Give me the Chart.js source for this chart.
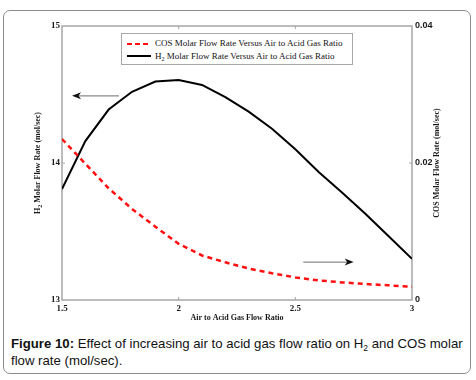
<!DOCTYPE html>
<html>
<head>
<meta charset="utf-8">
<script src="https://cdn.jsdelivr.net/npm/chart.js@4"></script>
<style>
  html, body { margin: 0; padding: 0; background: #fff; }
  #wrap { position: relative; width: 476px; height: 380px; overflow: hidden; }
  #frame {
    position: absolute; left: 3px; top: 10px; width: 468px; height: 364px;
    box-sizing: border-box; border: 1.5px solid #8c8c8c; border-radius: 7px;
  }
  #chart { position: absolute; left: 0; top: 0; }
  #legend {
    position: absolute; left: 121px; top: 33px; width: 232px; height: 32px;
    box-sizing: border-box; border: 1px solid #a8a8a8; background: #fff;
    font: 9px "Liberation Serif", serif; color: #111; padding-top: 3px;
  }
  #legend .row { height: 12.5px; line-height: 12.5px; white-space: nowrap; }
  #legend .sample { display: inline-block; width: 24px; height: 2px; margin: 0 4px 0 5px; vertical-align: middle; }
  #legend sub { font-size: 6px; vertical-align: -2px; line-height: 0; }
  #caption {
    position: absolute; left: 11px; top: 335px; width: 460px;
    font: 13.2px "Liberation Sans", Arial, sans-serif; line-height: 17px; color: #111;
    white-space: nowrap;
  }
  #caption sub { font-size: 8.5px; vertical-align: -3px; line-height: 0; }
</style>
</head>
<body>
<div id="wrap">
  <div id="frame"></div>
  <canvas id="chart" width="476" height="330"></canvas>
  <div id="legend"></div>
  <div id="caption"><b>Figure 10:</b> Effect of increasing air to acid gas flow ratio on H<sub>2</sub> and COS molar<br>flow rate (mol/sec).</div>
</div>
<script>
// air to acid gas ratio
const ratios = [1.5, 1.6, 1.7, 1.8, 1.9, 2.0, 2.1, 2.2, 2.3, 2.4, 2.5, 2.6, 2.7, 2.8, 2.9, 3.0];
// H2 molar flow rate (mol/sec), left axis
const h2Flow = [13.81, 14.16, 14.39, 14.52, 14.595, 14.605, 14.57, 14.48, 14.375, 14.25, 14.1, 13.935, 13.785, 13.63, 13.465, 13.3];
// COS molar flow rate (mol/sec), right axis
const cosFlow = [0.0235, 0.0199, 0.0163, 0.0133, 0.0107, 0.0082, 0.0065, 0.0055, 0.0046, 0.0039, 0.0033, 0.00286, 0.00257, 0.00233, 0.00214, 0.00194];

const xTicks = [1.5, 2, 2.5, 3];
const h2Ticks = [13, 14, 15];
const cosTicks = [0, 0.02, 0.04];

// arrows [xFrom, xTo, y] in data units
const arrowH2 = [1.744, 1.543, 14.49];
const arrowCos = [2.534, 2.75, 0.00553];

const legendLabels = ["COS Molar Flow Rate Versus Air to Acid Gas Ratio", "H<sub>2</sub> Molar Flow Rate Versus Air to Acid Gas Ratio"];

const serifBold = "bold 8px 'Liberation Serif', serif";

function drawRotated(ctx, parts, x, y, rot) {
  // parts: [text, isSub]
  ctx.save();
  ctx.translate(x, y);
  ctx.rotate(rot);
  ctx.textBaseline = "middle";
  ctx.textAlign = "left";
  let total = 0;
  const widths = parts.map(p => {
    ctx.font = p[1] ? "bold 6px 'Liberation Serif', serif" : serifBold;
    const w = ctx.measureText(p[0]).width;
    total += w;
    return w;
  });
  let cx = -total / 2;
  parts.forEach((p, i) => {
    ctx.font = p[1] ? "bold 6px 'Liberation Serif', serif" : serifBold;
    ctx.fillText(p[0], cx, p[1] ? 2.5 : 0);
    cx += widths[i];
  });
  ctx.restore();
}

function drawArrow(ctx, x0, x1, y) {
  const dir = Math.sign(x1 - x0);
  ctx.save();
  ctx.strokeStyle = "#8a8a8a";
  ctx.lineWidth = 1.2;
  ctx.beginPath();
  ctx.moveTo(x0, y);
  ctx.lineTo(x1 - dir * 6, y);
  ctx.stroke();
  ctx.fillStyle = "#111";
  ctx.beginPath();
  ctx.moveTo(x1, y);
  ctx.lineTo(x1 - dir * 9, y - 3.5);
  ctx.lineTo(x1 - dir * 6.5, y);
  ctx.lineTo(x1 - dir * 9, y + 3.5);
  ctx.closePath();
  ctx.fill();
  ctx.restore();
}

const framePlugin = {
  id: "frame",
  beforeDatasetsDraw(chart) {
    const { ctx, chartArea: a, scales } = chart;
    ctx.save();
    ctx.strokeStyle = "#a6a6a6";
    ctx.lineWidth = 1.5;
    ctx.strokeRect(a.left, a.top, a.right - a.left, a.bottom - a.top);
    ctx.lineWidth = 1;
    ctx.beginPath();
    xTicks.slice(1, -1).forEach(v => {
      const px = scales.x.getPixelForValue(v);
      ctx.moveTo(px, a.bottom); ctx.lineTo(px, a.bottom - 3);
      ctx.moveTo(px, a.top); ctx.lineTo(px, a.top + 3);
    });
    h2Ticks.slice(1, -1).forEach(v => {
      const py = scales.y.getPixelForValue(v);
      ctx.moveTo(a.left, py); ctx.lineTo(a.left + 3, py);
    });
    cosTicks.slice(1, -1).forEach(v => {
      const py = scales.y2.getPixelForValue(v);
      ctx.moveTo(a.right, py); ctx.lineTo(a.right - 3, py);
    });
    ctx.stroke();
    ctx.restore();
  },
  afterDraw(chart) {
    const { ctx, chartArea: a, scales } = chart;
    ctx.fillStyle = "#1a1a1a";
    const midY = (a.top + a.bottom) / 2;
    drawRotated(ctx, [["H", false], ["2", true], [" Molar Flow Rate (mol/sec)", false]], a.left - 24, midY, -Math.PI / 2);
    drawRotated(ctx, [["COS Molar Flow Rate (mol/sec)", false]], a.right + 25, midY, -Math.PI / 2);
    drawRotated(ctx, [["Air to Acid Gas Flow Ratio", false]], (a.left + a.right) / 2, a.bottom + 18, 0);

    drawArrow(ctx, scales.x.getPixelForValue(arrowH2[0]), scales.x.getPixelForValue(arrowH2[1]), scales.y.getPixelForValue(arrowH2[2]));
    drawArrow(ctx, scales.x.getPixelForValue(arrowCos[0]), scales.x.getPixelForValue(arrowCos[1]), scales.y2.getPixelForValue(arrowCos[2]));
  }
};

const ctx = document.getElementById("chart").getContext("2d");
const chart = new Chart(ctx, {
  type: "line",
  data: {
    datasets: [{
      label: "COS",
      data: ratios.map((r, i) => ({ x: r, y: cosFlow[i] })),
      yAxisID: "y2",
      borderColor: "#ff1010",
      borderWidth: 2.5,
      borderDash: [5, 4],
      pointRadius: 0,
      tension: 0,
      fill: false
    }, {
      label: "H2",
      data: ratios.map((r, i) => ({ x: r, y: h2Flow[i] })),
      yAxisID: "y",
      borderColor: "#000",
      borderWidth: 2,
      pointRadius: 0,
      tension: 0,
      fill: false
    }]
  },
  options: {
    responsive: false,
    animation: false,
    layout: { padding: { top: 26, left: 0, right: 0, bottom: 0 } },
    plugins: { legend: { display: false }, tooltip: { enabled: false } },
    scales: {
      x: {
        type: "linear",
        min: 1.5, max: 3,
        afterBuildTicks: s => { s.ticks = xTicks.map(v => ({ value: v })); },
        afterFit: s => { s.height = 30; },
        grid: { display: false, drawTicks: false, tickLength: 0 },
        border: { display: false },
        ticks: {
          padding: 3,
          maxRotation: 0,
          color: "#1a1a1a",
          font: { family: "'Liberation Serif', serif", size: 9, weight: "bold" },
          callback: v => String(v)
        }
      },
      y: {
        position: "left",
        min: 13, max: 15,
        afterBuildTicks: s => { s.ticks = h2Ticks.map(v => ({ value: v })); },
        afterFit: s => { s.width = 62; },
        grid: { display: false, drawTicks: false, tickLength: 0 },
        border: { display: false },
        ticks: {
          padding: 2,
          color: "#1a1a1a",
          font: { family: "'Liberation Serif', serif", size: 9, weight: "bold" },
          callback: v => String(v)
        }
      },
      y2: {
        position: "right",
        min: 0, max: 0.04,
        afterBuildTicks: s => { s.ticks = cosTicks.map(v => ({ value: v })); },
        afterFit: s => { s.width = 64; },
        grid: { display: false, drawTicks: false, tickLength: 0 },
        border: { display: false },
        ticks: {
          padding: 3,
          color: "#1a1a1a",
          font: { family: "'Liberation Sans', sans-serif", size: 9, weight: "bold" },
          callback: v => v === 0 ? "0" : v.toFixed(2)
        }
      }
    }
  },
  plugins: [framePlugin]
});

// legend built from the datasets
const legend = document.getElementById("legend");
chart.data.datasets.forEach((ds, i) => {
  const row = document.createElement("div");
  row.className = "row";
  const bg = ds.borderDash
    ? `repeating-linear-gradient(90deg, ${ds.borderColor} 0 5px, transparent 5px 8px)`
    : ds.borderColor;
  row.innerHTML = `<span class="sample" style="background:${bg};height:${ds.borderWidth}px"></span>${legendLabels[i]}`;
  legend.appendChild(row);
});
</script>
</body>
</html>
